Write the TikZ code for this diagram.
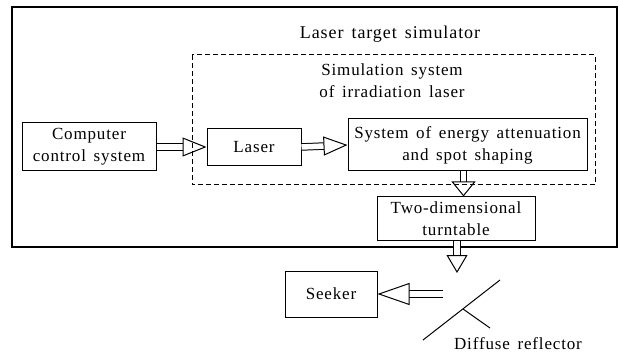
\documentclass[tikz,border=0pt]{standalone}
\usepackage{fontspec}
\setmainfont{Liberation Serif}[LetterSpace=5, WordSpace=1.5]
\usetikzlibrary{arrows.meta}

\tikzset{
  block/.style={draw, line width=1pt, inner sep=0pt, align=center},
  hollow/.style={double, double distance=5.5pt, line width=1pt,
    -{Triangle[open, length=#1, width=19pt, line width'=1pt]}},
  hollow/.default=24pt
}

\begin{document}
\begin{tikzpicture}[x=1pt, y=-1pt, font=\fontsize{17}{22}\selectfont]
    \useasboundingbox (0,0) rectangle (620,355);
    % frames
    \draw[line width=1.6pt] (12,7) rectangle (617,247);
    \draw[line width=1pt, dash pattern=on 5pt off 3pt] (192,55) rectangle (595,185);
    \node[font=\fontsize{18}{22}\selectfont] (title) at (390,34) {Laser target simulator};
    \node[align=center] (sim) at (392,81) {Simulation system\\of irradiation laser};

    \node[block, minimum width=134pt, minimum height=48pt] (ccs) at (89,147) {Computer\\control system};
    \node[block, minimum width=94pt, minimum height=37pt] (laser) at (254,147) {Laser};
    \node[block, minimum width=239pt, minimum height=52pt] (energy) at (467.5,145) {System of energy attenuation\\and spot shaping};
    \node[block, minimum width=158pt, minimum height=43pt] (turn) at (456,218.5) {Two-dimensional\\turntable};
    \node[block, minimum width=92pt, minimum height=46pt] (seeker) at (331,294) {Seeker};

    % diffuse reflector
    \coordinate (rA) at (423,340);
    \coordinate (rB) at (500,280);
    \coordinate (rN) at (463,309);
    \coordinate (rT) at (490,328);
    \draw[line width=1pt] (rA) -- (rB);
    \draw[line width=1pt] (rN) -- (rT);
    \node (refl) at (518,344) {Diffuse reflector};
    \coordinate (hit) at (457,273);
    \coordinate (back) at (443,294);

    \draw[hollow] (ccs.east) -- (laser.west);
    \draw[hollow] (laser.east) -- (energy.west);
    \draw[hollow=15pt, -{Triangle[open, length=15pt, width=24pt, line width'=1pt]}] ([xshift=-4pt]energy.south) -- ([xshift=-4pt]energy.south |- turn.north);
    \draw[hollow=18pt, -{Triangle[open, length=18pt, width=21pt, line width'=1pt]}] (turn.south -| hit) -- (hit);
    \draw[hollow=32pt, -{Triangle[open, length=32pt, width=22pt, line width'=1pt]}] (back) -- (seeker.east);
\end{tikzpicture}
\end{document}
